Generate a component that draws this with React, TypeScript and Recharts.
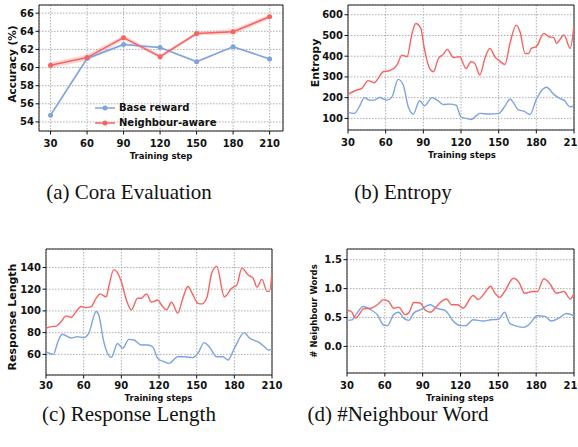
import React from "react";
import {
  ComposedChart,
  LineChart,
  Line,
  Area,
  XAxis,
  YAxis,
  CartesianGrid,
  ReferenceArea,
} from "recharts";

const RED = "#F8635F";
const BLUE = "#7FA2E3";
const FONT = "DejaVu Sans";
const stepTicks = [30, 60, 90, 120, 150, 180, 210];

// (a) Cora evaluation
const evalSteps = [30, 60, 90, 120, 150, 180, 210];
const baseAcc = [54.75, 61.0, 62.55, 62.2, 60.65, 62.3, 60.95];
const nbrAcc = [60.25, 61.1, 63.3, 61.2, 63.75, 63.95, 65.6];
const baseErr = [0.2, 0.2, 0.15, 0.1, 0.15, 0.1, 0.1];
const nbrErr = [0.3, 0.35, 0.25, 0.2, 0.2, 0.3, 0.25];
const accTicks = [54, 56, 58, 60, 62, 64, 66];
const legendItems = ["Base reward", "Neighbour-aware"];

// (b) Entropy
const entNbrSteps = [30, 37, 41, 46, 51, 54, 58, 63, 69, 73, 77, 81, 84, 88, 91, 95, 98, 102, 106, 109, 114, 119, 124, 128, 131, 135, 139, 143, 147, 150, 155, 159, 164, 167, 171, 174, 176, 180, 186, 190, 194, 196, 202, 207, 210];
const entNbr = [216, 237, 245, 282, 272, 293, 325, 330, 357, 405, 397, 510, 558, 534, 430, 341, 325, 389, 410, 433, 394, 397, 341, 373, 365, 309, 389, 438, 397, 381, 360, 462, 550, 518, 413, 413, 438, 446, 510, 494, 490, 462, 502, 438, 550];
const entBaseSteps = [30, 35, 39, 43, 47, 51, 55, 61, 65, 70, 74, 78, 82, 87, 91, 97, 101, 106, 111, 116, 120, 124, 128, 135, 143, 150, 155, 159, 166, 170, 175, 180, 188, 194, 199, 202, 207, 210];
const entBase = [129, 124, 156, 200, 188, 188, 201, 188, 204, 288, 261, 156, 121, 185, 161, 200, 188, 167, 169, 164, 108, 100, 95, 124, 121, 124, 159, 192, 140, 135, 119, 192, 250, 216, 195, 188, 156, 160];
const entTicks = [100, 200, 300, 400, 500, 600];

// (c) Response length
const lenNbrSteps = [30, 34, 38, 42, 46, 50, 54, 58, 62, 66, 70, 73, 78, 80, 84, 87, 90, 94, 98, 103, 106, 110, 114, 119, 122, 126, 130, 135, 139, 143, 147, 151, 154, 158, 162, 166, 172, 178, 182, 186, 191, 195, 198, 202, 206, 208, 210];
const lenNbr = [84, 85.5, 86, 90, 95.4, 94, 99.4, 104, 103, 104, 111.7, 115.7, 113, 122.5, 138, 135, 127, 110, 101, 111.7, 111.7, 115.7, 108, 110, 105.5, 101, 108, 98, 111.7, 122.5, 114.8, 107, 106.5, 111.7, 134.8, 141, 113, 121, 124, 139.4, 133, 130, 122, 129, 118, 118, 136];
const lenBaseSteps = [30, 36, 39, 43, 50, 55, 60, 64, 70, 72, 76, 82, 87, 91, 96, 100, 106, 111, 115, 119, 124, 128, 135, 140, 147, 151, 156, 160, 166, 171, 175, 180, 188, 192, 200, 204, 207, 210];
const lenBase = [62.5, 60, 70, 78.5, 75, 76.3, 75.4, 79.4, 99.4, 96.3, 71.7, 57.2, 70, 65.5, 73.8, 73.2, 68.6, 68.6, 67, 56.3, 53.2, 51.7, 57.8, 57.8, 57, 61, 70.8, 67, 57.8, 57.8, 54.8, 65.5, 80, 75, 70.8, 67, 64, 64.6];
const lenTicks = [60, 80, 100, 120, 140];

// (d) # Neighbour words
const nwNbrSteps = [30, 33, 37, 39, 43, 49, 54, 59, 63, 67, 71, 76, 79, 83, 88, 92, 96, 101, 105, 109, 113, 118, 122, 130, 134, 138, 144, 147, 151, 155, 162, 166, 171, 177, 181, 186, 191, 196, 202, 207, 210];
const nwNbr = [0.62, 0.61, 0.49, 0.53, 0.65, 0.66, 0.72, 0.81, 0.78, 0.66, 0.68, 0.55, 0.58, 0.76, 0.75, 0.63, 0.59, 0.69, 0.78, 0.82, 0.72, 0.72, 0.66, 0.88, 0.81, 0.89, 1.04, 0.93, 0.85, 0.95, 1.18, 1.12, 0.92, 0.95, 0.95, 1.17, 1.08, 0.92, 0.95, 0.82, 0.92];
const nwBaseSteps = [30, 34, 38, 43, 49, 54, 59, 62, 67, 71, 75, 79, 83, 88, 96, 101, 108, 115, 120, 124, 130, 138, 144, 150, 155, 159, 163, 170, 174, 181, 187, 192, 198, 204, 210];
const nwBase = [0.45, 0.46, 0.58, 0.69, 0.63, 0.55, 0.37, 0.36, 0.55, 0.59, 0.49, 0.45, 0.58, 0.63, 0.72, 0.66, 0.62, 0.42, 0.36, 0.36, 0.46, 0.44, 0.46, 0.47, 0.59, 0.4, 0.36, 0.33, 0.37, 0.53, 0.52, 0.44, 0.49, 0.57, 0.53];
const nwTicks = [0.0, 0.5, 1.0, 1.5];

const zip = (steps: number[], vals: number[]) =>
  steps.map((s, i) => ({ step: s, v: vals[i] }));

const tickStyle = { fontSize: 10, fontWeight: "bold" as const, fill: "#111", fontFamily: FONT };

const Overlay = ({ w, h, yLabel, yx, yy, ySize, xLabel, xx, xy }: any) => (
  <svg width={w} height={h} style={{ position: "absolute", left: 0, top: 0, pointerEvents: "none" }}>
    <text
      x={yx}
      y={yy}
      transform={`rotate(-90 ${yx} ${yy})`}
      textAnchor="middle"
      dominantBaseline="central"
      fontFamily={FONT}
      fontWeight="bold"
      fontSize={ySize}
      fill="#111"
    >
      {yLabel}
    </text>
    <text
      x={xx}
      y={xy}
      textAnchor="middle"
      dominantBaseline="central"
      fontFamily={FONT}
      fontWeight="bold"
      fontSize={8.5}
      fill="#111"
    >
      {xLabel}
    </text>
  </svg>
);

const AccLegend = () => (
  <div
    style={{
      position: "absolute",
      left: 94,
      top: 100,
      fontFamily: FONT,
      fontWeight: "bold",
      fontSize: 10,
      color: "#111",
      lineHeight: "15px",
    }}
  >
    {[BLUE, RED].map((c, i) => (
      <div key={legendItems[i]} style={{ display: "flex", alignItems: "center", height: 15 }}>
        <svg width={22} height={10} style={{ marginRight: 3 }}>
          <line x1={1} y1={5} x2={21} y2={5} stroke={c} strokeWidth={1.5} />
          <circle cx={11} cy={5} r={2.5} fill={c} />
        </svg>
        <span>{legendItems[i]}</span>
      </div>
    ))}
  </div>
);

function AccPanel() {
  const data = evalSteps.map((s, i) => ({
    step: s,
    base: baseAcc[i],
    nbr: nbrAcc[i],
    baseBand: [baseAcc[i] - baseErr[i], baseAcc[i] + baseErr[i]],
    nbrBand: [nbrAcc[i] - nbrErr[i], nbrAcc[i] + nbrErr[i]],
  }));
  const xd: [number, number] = [20.5, 221];
  const yd: [number, number] = [53, 66.9];
  return (
    <div style={{ position: "absolute", left: 0, top: 0, width: 290, height: 170 }}>
      <ComposedChart width={290} height={170} data={data} margin={{ top: 5, right: 7, left: 0, bottom: 0 }}>
        <CartesianGrid stroke="#999" strokeDasharray="1.5 1.5" strokeWidth={0.8} />
        <XAxis
          dataKey="step"
          type="number"
          domain={xd}
          ticks={stepTicks}
          height={39}
          tick={tickStyle}
          tickSize={3.5}
          tickMargin={5}
          axisLine={false}
          tickLine={{ stroke: "#111" }}
          allowDataOverflow
          interval={0}
        />
        <YAxis
          type="number"
          domain={yd}
          ticks={accTicks}
          width={39}
          tick={tickStyle}
          tickSize={3.5}
          tickMargin={1.5}
          axisLine={false}
          tickLine={{ stroke: "#111" }}
          allowDataOverflow
          interval={0}
        />
        <Area dataKey="baseBand" type="linear" stroke="none" fill={BLUE} fillOpacity={0.25} isAnimationActive={false} />
        <Area dataKey="nbrBand" type="linear" stroke="none" fill={RED} fillOpacity={0.25} isAnimationActive={false} />
        <Line dataKey="base" type="linear" stroke={BLUE} strokeWidth={1.5} dot={{ r: 2.5, fill: BLUE, stroke: BLUE, strokeWidth: 0 }} isAnimationActive={false} />
        <Line dataKey="nbr" type="linear" stroke={RED} strokeWidth={1.5} dot={{ r: 2.5, fill: RED, stroke: RED, strokeWidth: 0 }} isAnimationActive={false} />
        <ReferenceArea x1={xd[0]} x2={xd[1]} y1={yd[0]} y2={yd[1]} fill="none" stroke="#222" strokeWidth={1} ifOverflow="visible" />
      </ComposedChart>
      <AccLegend />
      <Overlay w={290} h={170} yLabel="Accuracy (%)" yx={12} yy={64} ySize={10.5} xLabel="Training step" xx={161} xy={156} />
    </div>
  );
}

function SmoothPanel(p: any) {
  const xd: [number, number] = [30, 210];
  return (
    <div style={{ position: "absolute", left: p.left, top: p.top, width: p.width, height: p.height }}>
      <LineChart width={p.width} height={p.height} margin={p.margin}>
        <CartesianGrid stroke="#999" strokeDasharray="1.5 1.5" strokeWidth={0.8} />
        <XAxis
          dataKey="step"
          type="number"
          domain={xd}
          ticks={stepTicks}
          height={p.xHeight}
          tick={tickStyle}
          tickSize={3.5}
          tickMargin={p.xTickMargin}
          axisLine={false}
          tickLine={{ stroke: "#111" }}
          allowDataOverflow
          interval={0}
        />
        <YAxis
          type="number"
          domain={p.yDomain}
          ticks={p.yTicks}
          width={p.yWidth}
          tick={tickStyle}
          tickSize={3.5}
          tickMargin={1.5}
          axisLine={false}
          tickLine={{ stroke: "#111" }}
          allowDataOverflow
          interval={0}
          tickFormatter={p.fmt}
        />
        <Line data={p.blue} dataKey="v" type="monotone" stroke={BLUE} strokeWidth={1.4} dot={false} isAnimationActive={false} />
        <Line data={p.red} dataKey="v" type="monotone" stroke={RED} strokeWidth={1.4} dot={false} isAnimationActive={false} />
        <ReferenceArea x1={xd[0]} x2={xd[1]} y1={p.yDomain[0]} y2={p.yDomain[1]} fill="none" stroke="#222" strokeWidth={1} ifOverflow="visible" />
      </LineChart>
      <Overlay w={p.width} h={p.height} yLabel={p.yLabel} yx={p.yx} yy={p.yy} ySize={p.ySize} xLabel="Training steps" xx={p.xx} xy={p.xy} />
    </div>
  );
}

const captionStyle = (cx: number, top: number): React.CSSProperties => ({
  position: "absolute",
  left: cx - 150,
  top,
  width: 300,
  textAlign: "center",
  fontFamily: "Liberation Serif",
  fontSize: 21,
  lineHeight: "16px",
  color: "#111",
  whiteSpace: "nowrap",
});

export default function App() {
  return (
    <div style={{ position: "absolute", left: 0, top: 0, width: 578, height: 447, background: "#fff", overflow: "hidden" }}>
      <AccPanel />
      <SmoothPanel
        left={290}
        top={0}
        width={288}
        height={170}
        margin={{ top: 5, right: 4, left: 0, bottom: 0 }}
        yWidth={58}
        xHeight={40}
        xTickMargin={5}
        yDomain={[44, 647]}
        yTicks={entTicks}
        red={zip(entNbrSteps, entNbr)}
        blue={zip(entBaseSteps, entBase)}
        yLabel="Entropy"
        yx={25}
        yy={63}
        ySize={11}
        xx={172}
        xy={155}
      />
      <SmoothPanel
        left={0}
        top={240}
        width={290}
        height={170}
        margin={{ top: 9, right: 18, left: 0, bottom: 0 }}
        yWidth={46}
        xHeight={35}
        xTickMargin={3.5}
        yDomain={[41, 157]}
        yTicks={lenTicks}
        red={zip(lenNbrSteps, lenNbr)}
        blue={zip(lenBaseSteps, lenBase)}
        yLabel="Response Length"
        yx={12}
        yy={77}
        ySize={11}
        xx={158.5}
        xy={158}
      />
      <SmoothPanel
        left={290}
        top={240}
        width={288}
        height={170}
        margin={{ top: 9, right: 4, left: 0, bottom: 0 }}
        yWidth={57}
        xHeight={37}
        xTickMargin={5}
        yDomain={[-0.46, 1.685]}
        yTicks={nwTicks}
        fmt={(v: number) => v.toFixed(1)}
        red={zip(nwNbrSteps, nwNbr)}
        blue={zip(nwBaseSteps, nwBase)}
        yLabel="# Neighbour Words"
        yx={24}
        yy={71}
        ySize={8.5}
        xx={170}
        xy={158}
      />
      <div style={captionStyle(129, 184)}>(a) Cora Evaluation</div>
      <div style={captionStyle(403, 184)}>(b) Entropy</div>
      <div style={captionStyle(129, 406)}>(c) Response Length</div>
      <div style={captionStyle(398, 406)}>(d) #Neighbour Word</div>
    </div>
  );
}
